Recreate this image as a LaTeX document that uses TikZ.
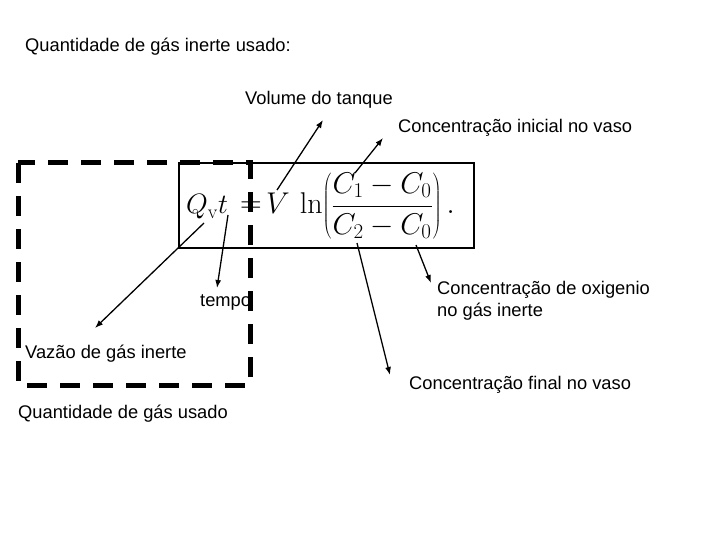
\RequirePackage{fix-cm}
\documentclass[tikz,border=0pt]{standalone}
\usepackage[no-math]{fontspec}
\setmainfont{Liberation Sans}
\usetikzlibrary{arrows.meta}
\begin{document}
\begin{tikzpicture}[x=1pt,y=-1pt,
  lbl/.style={anchor=base west,inner sep=0pt,font=\fontsize{18.3}{22}\selectfont},
  ptr/.style={line width=1.3pt,-{Latex[length=8pt,width=6pt]}},
  eqn/.style={inner sep=0pt,font=\fontsize{30}{36}\selectfont},
  solidbox/.style={line width=2pt},
  dashbox/.style={line width=5pt,dash pattern=on 20pt off 13pt}]
\useasboundingbox[fill=white] (0,0) rectangle (720,540);
% equation box
\draw[solidbox] (179,163) rectangle (474,248);
% equation
\node[eqn,font=\fontsize{28}{32}\selectfont] (qv) at (207,207) {$Q_{\mathrm v}t$};
\node[eqn] (eq) at (251,207) {$=$};
\node[eqn,anchor=west] (rhs) at (266,206) {$\displaystyle V\,\ln\!\left(\frac{C_1 - C_0}{C_2 - C_0}\right).$};
% dashed box
\draw[dashbox] (18,163) rectangle (250,385);
% labels
\node[lbl] (title) at (25,52) {Quantidade de gás inerte usado:};
\node[lbl] (vol) at (245,105) {Volume do tanque};
\node[lbl] (cini) at (398,133) {Concentração inicial no vaso};
\node[lbl] (tempo) at (200,306) {tempo};
\node[lbl] (oxi1) at (437,294) {Concentração de oxigenio};
\node[lbl] (oxi2) at (437,316) {no gás inerte};
\node[lbl] (vaz) at (25,358) {Vazão de gás inerte};
\node[lbl] (cfin) at (409,389) {Concentração final no vaso};
\node[lbl] (qtd) at (18,418) {Quantidade de gás usado};
% arrow ends
\coordinate (sV) at (277,190);  \coordinate (tV) at (323,120);
\coordinate (sC1) at (355,173); \coordinate (tC1) at (383,138);
\coordinate (sQ) at (204,223);  \coordinate (tQ) at (95,328);
\coordinate (st) at (228,215);  \coordinate (tt) at (217,288);
\coordinate (sC2) at (357,243); \coordinate (tC2) at (390,375);
\coordinate (sC0) at (416,245); \coordinate (tC0) at (431,283);
\draw[ptr] (sV) -- (tV);
\draw[ptr] (sC1) -- (tC1);
\draw[ptr] (sQ) -- (tQ);
\draw[ptr] (st) -- (tt);
\draw[ptr] (sC2) -- (tC2);
\draw[ptr] (sC0) -- (tC0);
\end{tikzpicture}
\end{document}
